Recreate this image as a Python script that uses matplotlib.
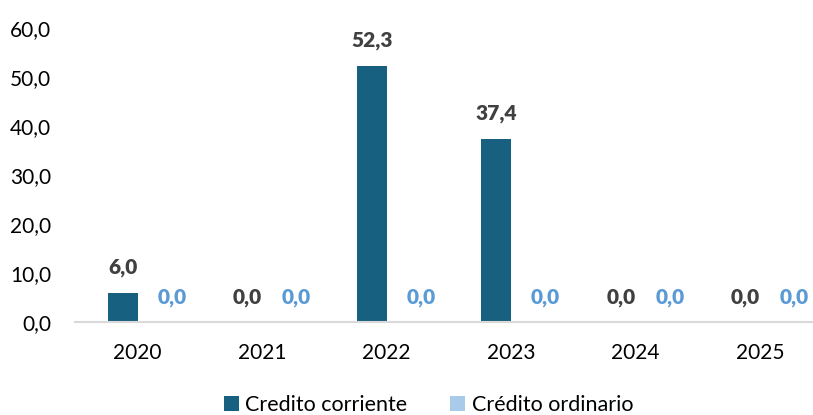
import matplotlib.pyplot as plt
import numpy as np

years = ['2020', '2021', '2022', '2023', '2024', '2025']
credito_corriente = [6.0, 0.0, 52.3, 37.4, 0.0, 0.0]
credito_ordinario = [0.0, 0.0, 0.0, 0.0, 0.0, 0.0]

dark = '#17607f'
light = '#a9cbea'

plt.rcParams['font.family'] = ['Lato', 'DejaVu Sans']

fig = plt.figure(figsize=(8.13, 4.15), dpi=100)
ax = fig.add_axes([75/813, 93/415, 747/813, 294/415])

x = np.arange(len(years))
w = 0.24
b1 = ax.bar(x - 0.115, credito_corriente, w, color=dark, label='Credito corriente')
b2 = ax.bar(x + 0.28, credito_ordinario, w, color=light, label='Crédito ordinario')

# value labels
for rect, v in zip(b1, credito_corriente):
    ax.annotate(f'{v:.1f}'.replace('.', ','), (rect.get_x() + rect.get_width()/2, v),
                xytext=(0, 25), textcoords='offset pixels', ha='center', va='center',
                fontsize=15, fontweight='heavy', color='#404040', annotation_clip=False)
for rect, v in zip(b2, credito_ordinario):
    ax.annotate(f'{v:.1f}'.replace('.', ','), (rect.get_x() + rect.get_width()/2, v),
                xytext=(0, 25), textcoords='offset pixels', ha='center', va='center',
                fontsize=15, fontweight='heavy', color='#5b9bd5', annotation_clip=False)

ax.set_xlim(-0.5, 5.5)
ax.set_ylim(0, 60)
ax.set_yticks(np.arange(0, 61, 10))
ax.set_yticklabels([f'{t:.1f}'.replace('.', ',') for t in np.arange(0, 61, 10)])
ax.set_xticks(x)
ax.set_xticklabels(years)
ax.tick_params(axis='both', length=0, labelsize=15, colors='black')
ax.tick_params(axis='y', pad=17)
ax.tick_params(axis='x', pad=15)

for s in ['top', 'right', 'left']:
    ax.spines[s].set_visible(False)
ax.spines['bottom'].set_color('#d9d9d9')
ax.spines['bottom'].set_linewidth(1.5)

fig.legend(loc='center', bbox_to_anchor=(0.527, 0.024), ncol=2, frameon=False,
           fontsize=15.5, handlelength=0.7, handleheight=0.7, handletextpad=0.3,
           columnspacing=2.0, borderaxespad=0)

fig.savefig('out.png', dpi=100)
